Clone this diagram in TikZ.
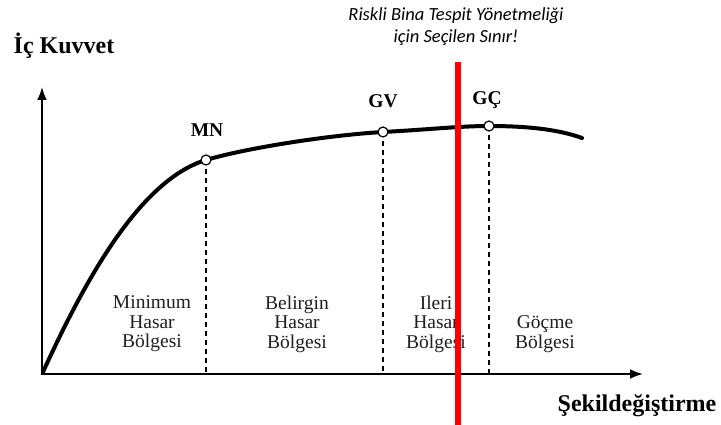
\documentclass[tikz,border=0pt]{standalone}
\usepackage{fontspec}
\setmainfont{Liberation Serif}
\newfontfamily\calibri{Carlito}
\usetikzlibrary{calc}
\usetikzlibrary{positioning}
\usetikzlibrary{arrows.meta}

\tikzset{
  limitpt/.style={circle, draw=black, fill=white, line width=1.2pt, inner sep=0pt, minimum size=10pt},
  ptlabel/.style={font=\bfseries\fontsize{19.5}{20}\selectfont, inner sep=0pt},
  axlabel/.style={font=\bfseries\fontsize{24}{25}\selectfont, inner sep=0pt},
  zone/.style={align=center, text=black!88, inner sep=0pt, font=\fontsize{19.5}{19.5}\selectfont},
  drop/.style={dash pattern=on 5pt off 4pt, line width=1.2pt},
  axis/.style={line width=2pt, -{Latex[length=13pt,width=10pt]}}
}

\begin{document}
\begin{tikzpicture}[x=1pt,y=-1pt]
\useasboundingbox (0,0) rectangle (721,425);

% eksenler
\coordinate (O) at (42,374);
\coordinate (ytop) at (42,87);
\coordinate (xend) at (643,374);
\draw[axis] ($(O)+(0,1)$) -- (ytop);
\draw[axis] ($(O)+(-1,0)$) -- (xend);
\node[axlabel] (fy) at (64,46) {İç Kuvvet};
\node[axlabel] (fx) at (637,406) {Şekildeğiştirme};

% kapasite egrisi
\coordinate (MN) at (206,160);
\coordinate (GV) at (383,132);
\coordinate (GC) at (489,126);
\coordinate (E) at (582,138);
\draw[line width=4pt, line cap=round] ($(O)+(1,-2)$) .. controls (85,280) and (140,180) .. (MN)
  .. controls (246,148) and (330,135) .. (GV)
  .. controls (430,129.5) and (460,126) .. (GC)
  .. controls (530,126) and (560,130) .. (E);

% performans noktalari
\coordinate (MNb) at (MN |- O);
\coordinate (GVb) at (GV |- O);
\coordinate (GCb) at (GC |- O);
\draw[drop] (MN) -- (MNb);
\draw[drop] (GV) -- (GVb);
\draw[drop] (GC) -- (GCb);
\node[limitpt] (mn) at (MN) {};
\node[limitpt] (gv) at (GV) {};
\node[limitpt] (gc) at (GC) {};
\node[ptlabel] (mnl) at (207,130) {MN};
\node[ptlabel] (gvl) at (383,101) {GV};
\node[ptlabel] (gcl) at (487,100) {GÇ};

% hasar bolgeleri
\node[zone] (z1) at (152,324) {Minimum\\Hasar\\Bölgesi};
\node[zone] (z2) at (297,324) {Belirgin\\Hasar\\Bölgesi};
\node[zone] (z3) at (436,324) {Ileri\\Hasar\\Bölgesi};
\node[zone] (z4) at (545,334) {Göçme\\Bölgesi};

% sinir
\coordinate (rt) at (458,62);
\coordinate (rb) at (458,425);
\draw[red, line width=6pt] (rt) -- (rb);
\node[align=center, inner sep=0pt, text=black, font=\calibri\itshape\fontsize{18.5}{22}\selectfont] (lim) at (456,27) {Riskli Bina Tespit Yönetmeliği\\için Seçilen Sınır!};

\end{tikzpicture}
\end{document}
